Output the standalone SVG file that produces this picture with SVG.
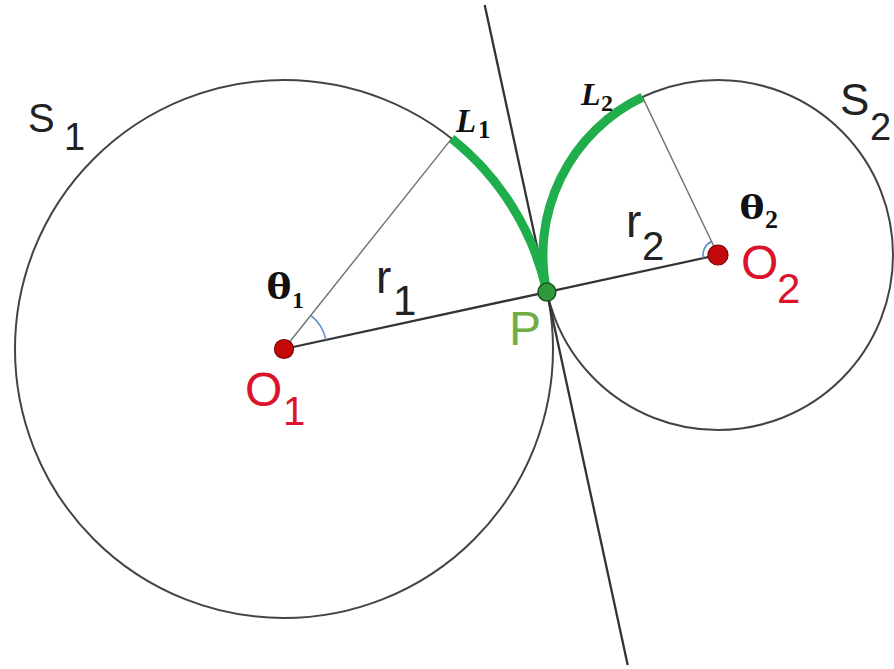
<svg xmlns="http://www.w3.org/2000/svg" width="894" height="669" viewBox="0 0 894 669">
<style>
.circ{fill:none;stroke:#444;stroke-width:2}
.thin{stroke:#707070;stroke-width:1.4;fill:none}
.rad{stroke:#333;stroke-width:2.3;fill:none}
.green{fill:none;stroke:#1fae4b;stroke-width:9;stroke-linecap:butt}
.ang{fill:none;stroke:#5b8fc7;stroke-width:1.6}
.sans{font-family:"Liberation Sans",Arial,sans-serif}
.red{fill:#d9142b}
.blk{fill:#222}
.serif{font-family:"Liberation Serif","Times New Roman",serif;font-weight:bold;fill:#111}
.dotr{fill:#c40a0a;stroke:#7a0000;stroke-width:1.2}
</style>
<rect width="894" height="669" fill="#fff"/>
<g id="S1">
<circle class="circ" cx="284" cy="349" r="269"/>
<text class="sans blk" x="28" y="132" font-size="40">S</text>
<text class="sans blk" x="64" y="150" font-size="38">1</text>
</g>
<g id="S2">
<circle class="circ" cx="718" cy="255" r="175"/>
<text class="sans blk" x="840" y="115" font-size="44">S</text>
<text class="sans blk" x="870" y="140" font-size="38">2</text>
</g>
<g id="connectors">
<line class="rad" x1="484.7" y1="5" x2="627.7" y2="665"/>
<line class="thin" x1="284" y1="349" x2="451.6" y2="138.6"/>
<line class="rad" x1="284" y1="349" x2="546.9" y2="292.05"/>
<line class="rad" x1="718" y1="255" x2="546.9" y2="292.05"/>
<line class="thin" x1="718" y1="255" x2="642.5" y2="97.1"/>
<path class="ang" d="M310.8,315.4 A43,43 0 0 1 326,339.9"/>
<path class="ang" d="M711.5,241.5 A15,15 0 0 0 703.3,258.2"/>
<path class="green" d="M451.6,138.6 A269,269 0 0 1 546.9,292.05"/>
<path class="green" d="M642.5,97.1 A175,175 0 0 0 546.9,292.05"/>
</g>
<g id="O1">
<circle class="dotr" cx="284" cy="349" r="9.5"/>
<text class="sans red" x="245" y="406" font-size="48">O</text>
<text class="sans red" x="283" y="425" font-size="40">1</text>
</g>
<g id="O2">
<circle class="dotr" cx="718" cy="255" r="10"/>
<text class="sans red" x="741" y="279" font-size="48">O</text>
<text class="sans red" x="777" y="303" font-size="42">2</text>
</g>
<g id="P">
<circle cx="546.9" cy="292.05" r="9" fill="#2e9a3c" stroke="#1e4f1e" stroke-width="1.5"/>
<text class="sans" x="509" y="345" font-size="48" fill="#70ad47">P</text>
</g>
<g id="labels">
<text class="sans blk" x="376" y="293" font-size="46">r</text>
<text class="sans blk" x="393" y="315" font-size="42">1</text>
<text class="sans blk" x="626" y="237" font-size="46">r</text>
<text class="sans blk" x="642" y="260" font-size="40">2</text>
<text class="serif" x="266" y="299" font-size="38" textLength="26" lengthAdjust="spacingAndGlyphs">θ</text>
<text class="serif" x="292" y="308" font-size="24">1</text>
<text class="serif" x="739" y="219" font-size="36" textLength="26" lengthAdjust="spacingAndGlyphs">θ</text>
<text class="serif" x="765" y="228" font-size="26">2</text>
<text class="serif" x="456" y="132" font-size="33" font-style="italic">L</text>
<text class="serif" x="478" y="138" font-size="25">1</text>
<text class="serif" x="581" y="105" font-size="32" font-style="italic">L</text>
<text class="serif" x="601" y="111" font-size="24">2</text>
</g>
</svg>
